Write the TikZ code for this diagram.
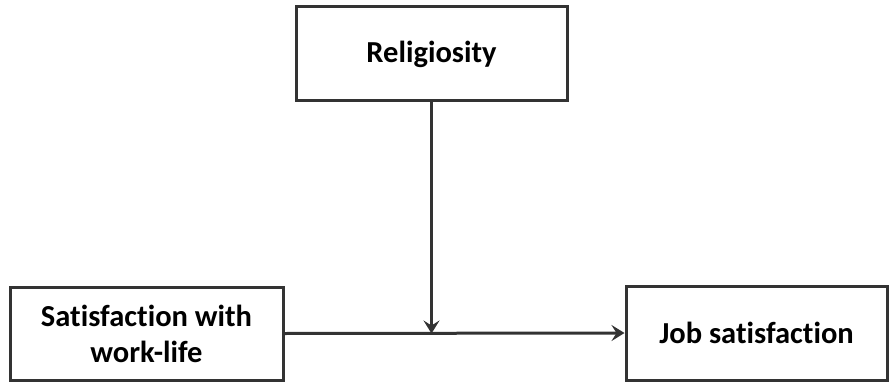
\documentclass[tikz,border=0pt]{standalone}
\usepackage{fontspec}
\setmainfont{Carlito}[Ligatures=NoCommon]
\usetikzlibrary{arrows.meta}
\begin{document}
\begin{tikzpicture}[x=1pt,y=-1pt,
  box/.style={draw=black!80,line width=3pt,fill=white,inner sep=0pt,align=center,font=\bfseries\fontsize{30.5}{36}\selectfont},
  conn/.style={draw=black!80,line width=3pt,-{Stealth[length=13pt,width=16pt,inset=5pt]}}]
\useasboundingbox (0,0) rectangle (890,382);
\node[box,minimum width=271pt,minimum height=94pt] (rel) at (431.5,54) {Religiosity};
\node[box,minimum width=273pt,minimum height=93pt] (swl) at (146.5,333.5) {Satisfaction with\\work-life};
\node[box,minimum width=261pt,minimum height=94pt] (job) at (756.5,333) {Job satisfaction};
\coordinate (mid) at (rel.south |- swl.east);
\draw[conn] (swl.east) -- (job.west);
\draw[conn] (rel.south) -- (mid);
\end{tikzpicture}
\end{document}
